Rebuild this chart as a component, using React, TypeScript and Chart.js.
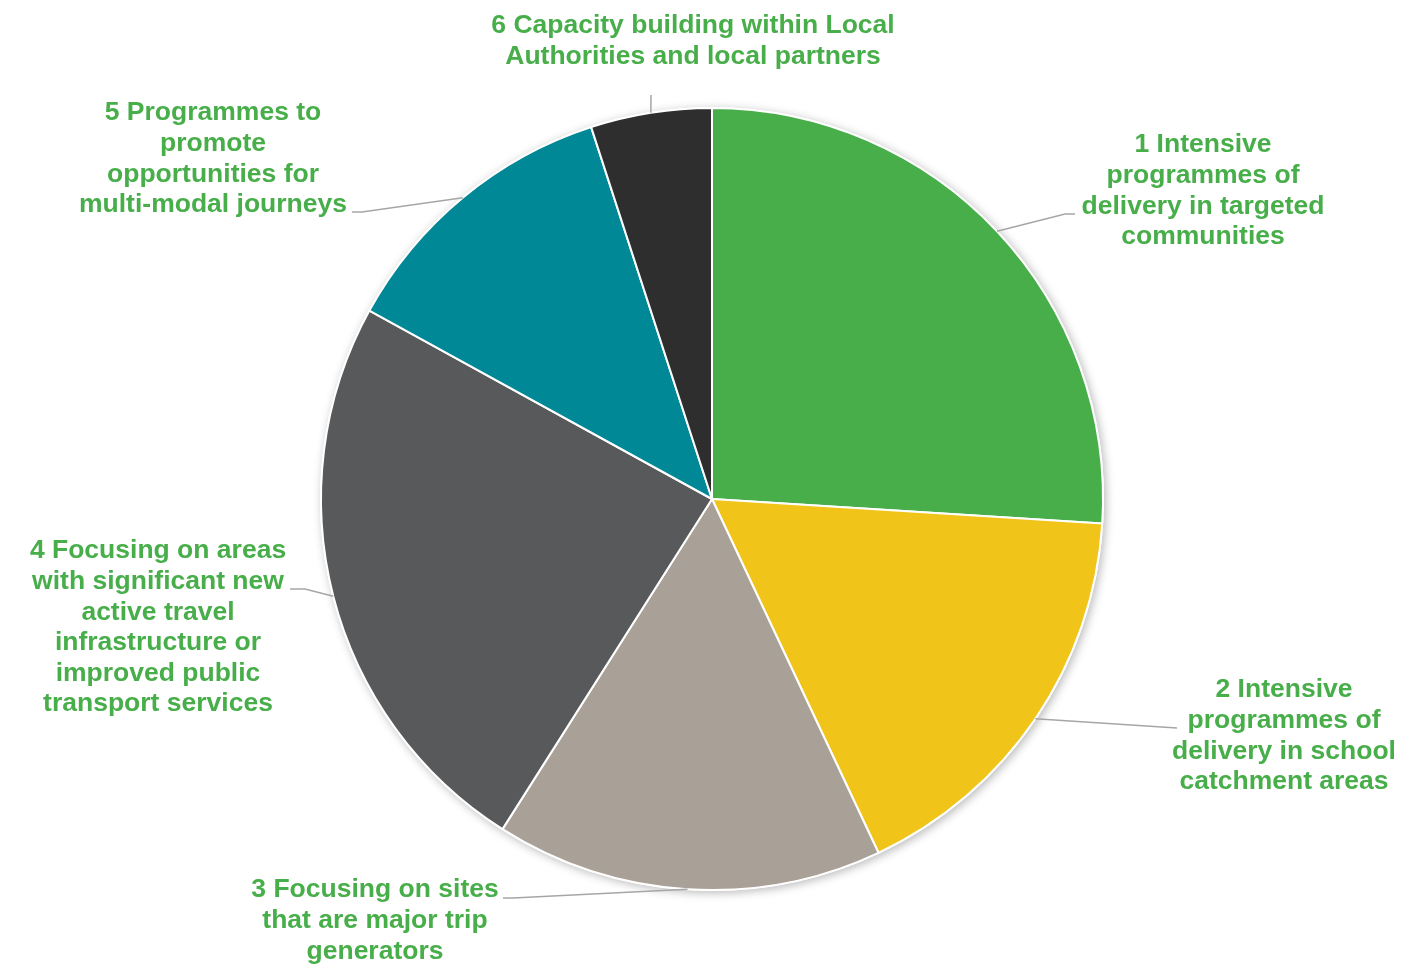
import React, { useEffect, useRef } from "react";
import { Chart, registerables } from "chart.js";

Chart.register(...registerables);

const categories: string[][] = [
  ["1 Intensive", "programmes of", "delivery in targeted", "communities"],
  ["2 Intensive", "programmes of", "delivery in school", "catchment areas"],
  ["3 Focusing on sites", "that are major trip", "generators"],
  ["4 Focusing on areas", "with significant new", "active travel", "infrastructure or", "improved public", "transport services"],
  ["5 Programmes to", "promote", "opportunities for", "multi-modal journeys"],
  ["6 Capacity building within Local", "Authorities and local partners"],
];

const values: number[] = [26, 17, 16, 24, 12, 5];

const colors: string[] = ["#47AE4A", "#F0C419", "#A9A097", "#58595B", "#008896", "#2E2E2F"];

// label layout: text centre x, first line centre y, leader points after the arc point
const labelLayout = [
  { cx: 1203, y0: 145, leader: [[1065, 214], [1075, 214]] },
  { cx: 1284, y0: 690, leader: [[1177, 728]] },
  { cx: 375, y0: 890, leader: [[513, 898], [503, 898]] },
  { cx: 158, y0: 551, leader: [[305, 589], [290, 589]] },
  { cx: 213, y0: 113, leader: [[362, 212], [352, 212]] },
  { cx: 693, y0: 26, leader: [[651, 95]] },
];
const lineHeight = 30.6;

const shadowPlugin = {
  id: "pieShadow",
  beforeDatasetsDraw(chart: any) {
    const arc = chart.getDatasetMeta(0).data[0];
    if (!arc) return;
    const { x, y, outerRadius } = arc.getProps(["x", "y", "outerRadius"], true);
    const ctx = chart.ctx;
    ctx.save();
    ctx.shadowColor = "rgba(0,0,0,0.28)";
    ctx.shadowBlur = 10;
    ctx.shadowOffsetX = 2;
    ctx.shadowOffsetY = 2;
    ctx.fillStyle = "#ffffff";
    ctx.beginPath();
    ctx.arc(x, y, outerRadius + 1, 0, Math.PI * 2);
    ctx.fill();
    ctx.restore();
  },
};

const labelPlugin = {
  id: "outLabels",
  afterDatasetsDraw(chart: any) {
    const ctx = chart.ctx;
    const meta = chart.getDatasetMeta(0);
    meta.data.forEach((arc: any, i: number) => {
      const { x, y, startAngle, endAngle, outerRadius } = arc.getProps(
        ["x", "y", "startAngle", "endAngle", "outerRadius"],
        true
      );
      const mid = (startAngle + endAngle) / 2;
      const px = x + Math.cos(mid) * outerRadius;
      const py = y + Math.sin(mid) * outerRadius;
      const lay = labelLayout[i];
      ctx.save();
      ctx.strokeStyle = "#A6A6A6";
      ctx.lineWidth = 1.5;
      ctx.beginPath();
      ctx.moveTo(px, py);
      lay.leader.forEach((p) => ctx.lineTo(p[0], p[1]));
      ctx.stroke();
      ctx.fillStyle = "#47AE4A";
      ctx.font = "bold 26.5px 'Liberation Sans', Arial, sans-serif";
      ctx.textAlign = "center";
      ctx.textBaseline = "middle";
      categories[i].forEach((line, j) => {
        ctx.fillText(line, lay.cx, lay.y0 + j * lineHeight);
      });
      ctx.restore();
    });
  },
};

export default function App() {
  const ref = useRef<HTMLCanvasElement | null>(null);
  useEffect(() => {
    if (!ref.current) return;
    const chart = new Chart(ref.current, {
      type: "pie",
      data: {
        labels: categories.map((c) => c.join(" ")),
        datasets: [
          {
            data: values,
            backgroundColor: colors,
            borderColor: "#ffffff",
            borderWidth: 2,
          },
        ],
      },
      options: {
        responsive: false,
        animation: false,
        layout: { padding: { top: 107, bottom: 74, left: 0, right: 2 } },
        plugins: {
          legend: { display: false },
          tooltip: { enabled: false },
        },
      },
      plugins: [shadowPlugin, labelPlugin],
    });
    return () => chart.destroy();
  }, []);
  return (
    <div style={{ position: "absolute", left: 0, top: 0, width: 1426, height: 965, background: "#fff" }}>
      <canvas ref={ref} width={1426} height={965} />
    </div>
  );
}
